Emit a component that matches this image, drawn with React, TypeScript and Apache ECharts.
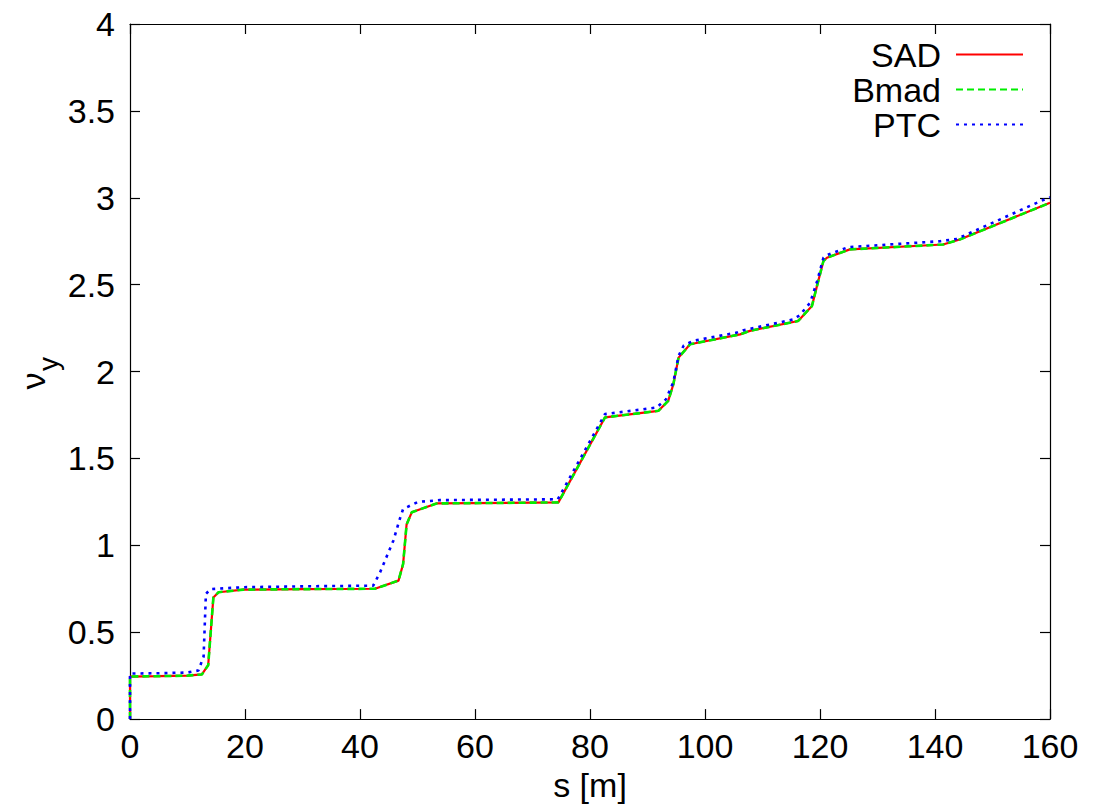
import React, { useEffect, useRef } from "react";
import * as echarts from "echarts";

const xTickLabels = ["0", "20", "40", "60", "80", "100", "120", "140", "160"];
const yTickLabels = ["0", "0.5", "1", "1.5", "2", "2.5", "3", "3.5", "4"];

const seriesNames = ["SAD", "Bmad", "PTC"];

const sadS = [0, 0, 5, 10, 12.5, 13.6, 14.5, 15.4, 19.7, 30, 42.6, 46.7, 47.5, 48.1, 49.0, 53.3, 74.5, 82.6, 91.9, 93.6, 94.5, 95.4, 97.4, 106.1, 107.8, 116.2, 118.6, 119.4, 120.6, 121.2, 125.2, 141.4, 144.3, 160];
const sadNu = [0, 0.245, 0.247, 0.25, 0.257, 0.31, 0.7, 0.73, 0.745, 0.748, 0.75, 0.797, 0.893, 1.12, 1.19, 1.241, 1.247, 1.736, 1.774, 1.831, 1.927, 2.08, 2.157, 2.214, 2.234, 2.291, 2.377, 2.483, 2.636, 2.655, 2.703, 2.731, 2.76, 2.971];

const bmadS = [0, 0, 5, 10, 12.5, 13.6, 14.5, 15.4, 19.7, 30, 42.6, 46.7, 47.5, 48.1, 49.0, 53.3, 74.5, 82.6, 91.9, 93.6, 94.5, 95.4, 97.4, 106.1, 107.8, 116.2, 118.6, 119.4, 120.6, 121.2, 125.2, 141.4, 144.3, 160];
const bmadNu = [0, 0.245, 0.247, 0.25, 0.257, 0.31, 0.7, 0.73, 0.745, 0.748, 0.75, 0.797, 0.893, 1.12, 1.19, 1.241, 1.247, 1.736, 1.774, 1.831, 1.927, 2.08, 2.157, 2.214, 2.234, 2.291, 2.377, 2.483, 2.636, 2.655, 2.703, 2.731, 2.76, 2.971];

const ptcS = [0, 0, 5, 10, 11.9, 12.8, 13.2, 14.0, 19.7, 30, 42.3, 43.5, 45.8, 47.0, 47.5, 50.1, 53.9, 74.4, 82.6, 91.6, 93.2, 94.5, 95.4, 96.3, 98.0, 105.5, 106.7, 115.4, 116.5, 118.3, 119.5, 120.6, 121.2, 124.9, 140.9, 143.8, 158.3, 160];
const ptcNu = [0, 0.262, 0.264, 0.268, 0.28, 0.36, 0.72, 0.748, 0.759, 0.764, 0.768, 0.845, 1.027, 1.16, 1.209, 1.25, 1.26, 1.265, 1.755, 1.793, 1.84, 1.94, 2.09, 2.15, 2.177, 2.224, 2.238, 2.3, 2.325, 2.397, 2.52, 2.655, 2.67, 2.716, 2.75, 2.763, 2.98, 3.003];

const FONT = "'Liberation Sans', Arial, Helvetica, sans-serif";

function pairs(xs: number[], ys: number[]) {
  return xs.map((x, i) => [x, ys[i]]);
}

export default function App() {
  const ref = useRef<HTMLDivElement>(null);

  useEffect(() => {
    document.body.style.margin = "0";
    if (!ref.current) return;
    const chart = echarts.init(ref.current, null, { renderer: "svg" });

    const axisCommon = {
      type: "value" as const,
      axisLine: { show: true, onZero: false, lineStyle: { color: "#000", width: 1.2 } },
      axisTick: { show: true, inside: true, length: 10, lineStyle: { color: "#000", width: 1.2 } },
      splitLine: { show: false },
    };

    chart.setOption({
      animation: false,
      backgroundColor: "#fff",
      grid: { left: 130, right: 66, top: 24, bottom: 83, containLabel: false },
      legend: {
        orient: "vertical",
        right: 87,
        top: 32,
        align: "right",
        itemWidth: 67,
        itemHeight: 14,
        itemGap: 0,
        selectedMode: false,
        data: seriesNames,
        itemStyle: { opacity: 0, borderWidth: 0 },
        textStyle: { fontFamily: FONT, fontSize: 34, color: "#000", lineHeight: 35, padding: [0, 10, 0, 0] },
      },
      xAxis: [
        {
          ...axisCommon,
          position: "bottom",
          min: 0,
          max: 160,
          interval: 20,
          axisLabel: {
            show: true,
            margin: 10,
            fontFamily: FONT,
            fontSize: 34,
            color: "#000",
            formatter: (v: number) => xTickLabels[Math.round(v / 20)] ?? String(v),
          },
          name: "s [m]",
          nameLocation: "middle",
          nameGap: 44,
          nameTextStyle: { fontFamily: FONT, fontSize: 34, color: "#000" },
        },
        {
          ...axisCommon,
          position: "top",
          min: 0,
          max: 160,
          interval: 20,
          axisLabel: { show: false },
        },
      ],
      yAxis: [
        {
          ...axisCommon,
          position: "left",
          min: 0,
          max: 4,
          interval: 0.5,
          axisLabel: {
            show: true,
            margin: 15,
            fontFamily: FONT,
            fontSize: 34,
            color: "#000",
            formatter: (v: number) => yTickLabels[Math.round(v / 0.5)] ?? String(v),
          },
        },
        {
          ...axisCommon,
          position: "right",
          min: 0,
          max: 4,
          interval: 0.5,
          axisLabel: { show: false },
        },
      ],
      graphic: [
        {
          type: "text",
          x: 33,
          y: 381,
          rotation: Math.PI / 2,
          style: { text: "ν", fontFamily: FONT, fontSize: 34, fill: "#000", textAlign: "center", textVerticalAlign: "middle" },
        },
        {
          type: "text",
          x: 48,
          y: 364,
          rotation: Math.PI / 2,
          style: { text: "y", fontFamily: FONT, fontSize: 28, fill: "#000", textAlign: "center", textVerticalAlign: "middle" },
        },
      ],
      series: [
        {
          name: "SAD",
          type: "line",
          xAxisIndex: 0,
          yAxisIndex: 0,
          symbol: "none",
          data: pairs(sadS, sadNu),
          lineStyle: { color: "#ff0000", width: 2.2, type: "solid" },
          itemStyle: { color: "#ff0000" },
        },
        {
          name: "Bmad",
          type: "line",
          xAxisIndex: 0,
          yAxisIndex: 0,
          symbol: "none",
          data: pairs(bmadS, bmadNu),
          lineStyle: { color: "#00ee00", width: 2.6, type: [7, 4] },
          itemStyle: { color: "#00ee00" },
        },
        {
          name: "PTC",
          type: "line",
          xAxisIndex: 0,
          yAxisIndex: 0,
          symbol: "none",
          data: pairs(ptcS, ptcNu),
          lineStyle: { color: "#0000ff", width: 2.6, type: [3, 5] },
          itemStyle: { color: "#0000ff" },
        },
      ],
    });

    return () => chart.dispose();
  }, []);

  return <div ref={ref} style={{ width: 1116, height: 807 }} />;
}
